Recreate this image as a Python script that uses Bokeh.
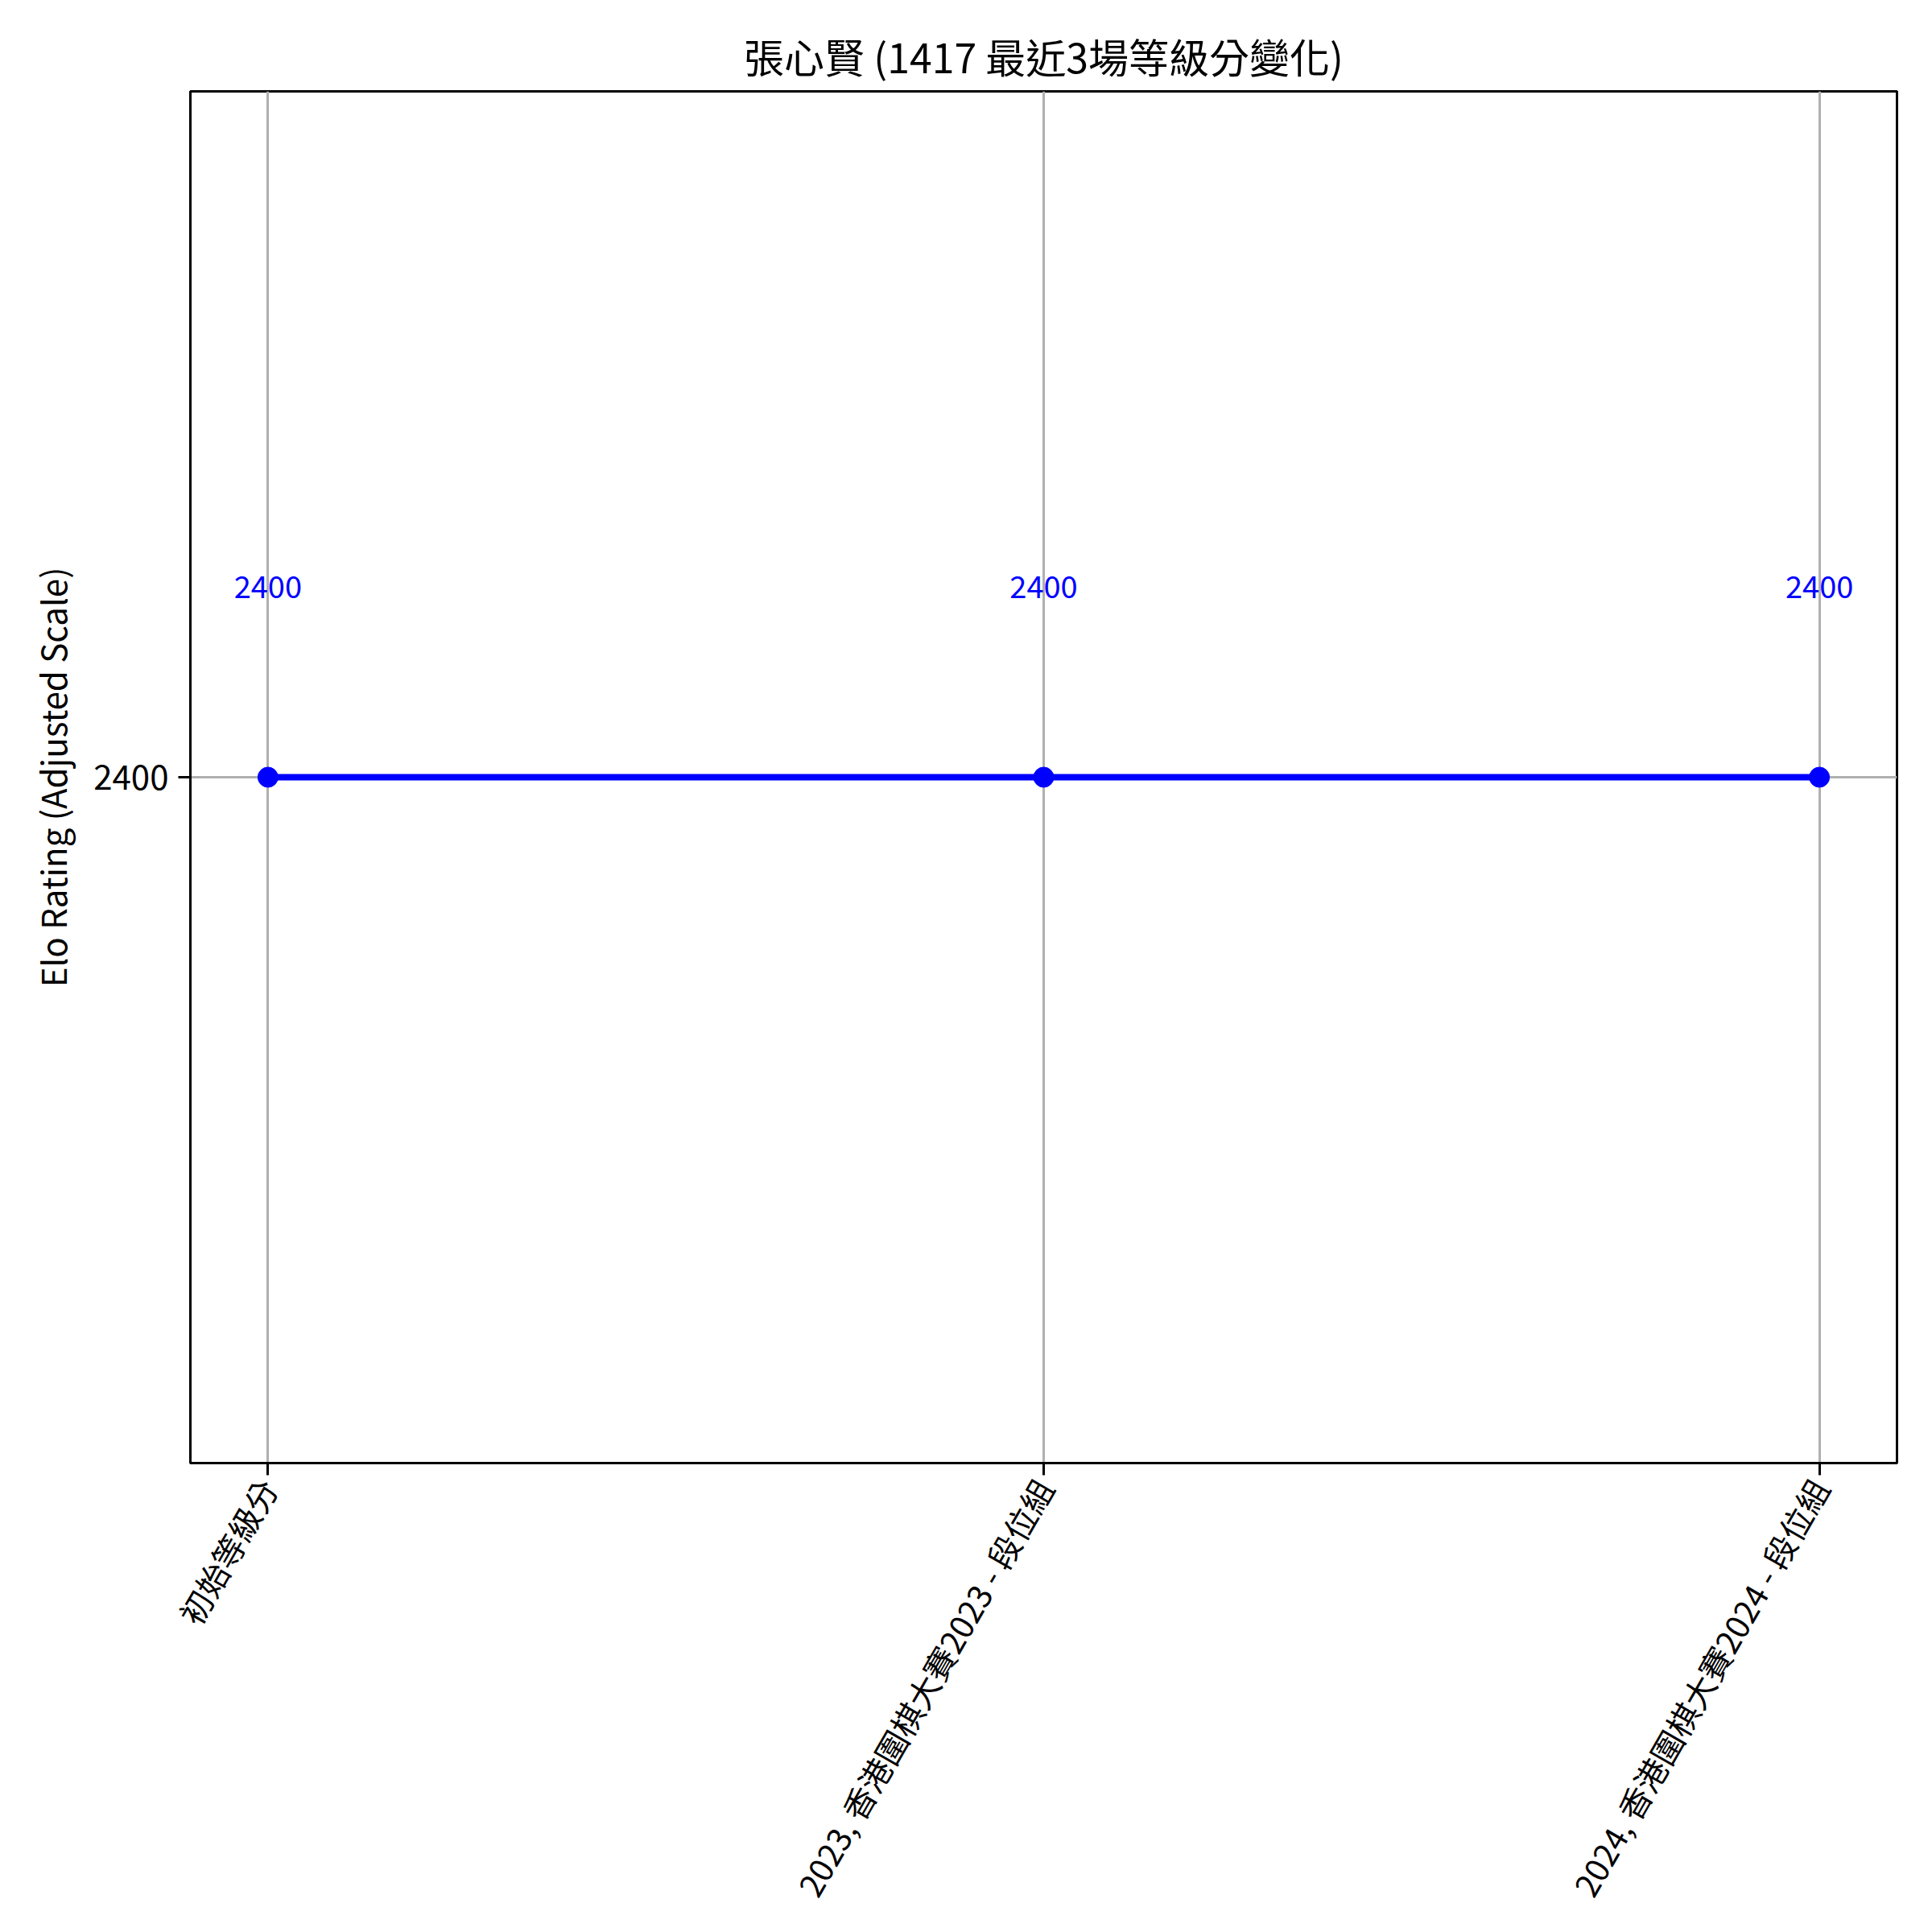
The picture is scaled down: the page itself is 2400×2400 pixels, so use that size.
import math
from bokeh.plotting import figure
from bokeh.models import Range1d, FixedTicker, ColumnDataSource
from bokeh.core.properties import value
from bokeh.embed import file_html
from bokeh.resources import INLINE

title_text = "張心賢 (1417 最近3場等級分變化)"
categories = ["初始等級分", "2023, 香港圍棋大賽2023 - 段位組", "2024, 香港圍棋大賽2024 - 段位組"]
ratings = [2400, 2400, 2400]
y_ticks = [2400]
y_label = "Elo Rating (Adjusted Scale)"

FONT = "Noto Sans CJK TC"
x_idx = list(range(len(categories)))
src = ColumnDataSource(dict(x=x_idx, y=ratings, label=[str(r) for r in ratings]))

p = figure(frame_width=2120, frame_height=1704,
           min_border_left=236, min_border_right=36, min_border_top=113, min_border_bottom=575,
           x_range=Range1d(-0.1, len(categories) - 0.9),
           y_range=Range1d(2300, 2500),
           output_backend="svg", toolbar_location=None, title=title_text)

p.title.text_font = FONT
p.title.text_font_size = "50px"
p.title.text_font_style = "normal"
p.title.align = "center"
p.title.text_color = "black"
p.title.standoff = 18

p.outline_line_color = "black"
p.outline_line_width = 3
p.outline_line_alpha = 1

p.xaxis.ticker = FixedTicker(ticks=x_idx)
p.xaxis.major_label_overrides = {i: c for i, c in zip(x_idx, categories)}
p.xaxis.major_label_orientation = math.pi / 3
p.yaxis.ticker = FixedTicker(ticks=y_ticks)
p.yaxis.axis_label = y_label

for ax in (p.xaxis[0], p.yaxis[0]):
    ax.axis_line_color = "black"
    ax.axis_line_width = 3
    ax.major_tick_in = 0
    ax.major_tick_out = 15
    ax.major_tick_line_width = 3
    ax.major_tick_line_color = "black"
    ax.minor_tick_line_color = None
    ax.major_label_text_font = FONT
    ax.major_label_text_font_size = "42px"
    ax.major_label_text_color = "black"
    ax.major_label_standoff = 12
    ax.axis_label_text_font = FONT
    ax.axis_label_text_font_size = "42px"
    ax.axis_label_text_font_style = "normal"
    ax.axis_label_text_color = "black"
    ax.axis_label_standoff = 18

p.xaxis.major_label_text_font_size = "40px"
p.xaxis.major_label_standoff = 8

for g in (p.xgrid[0], p.ygrid[0]):
    g.grid_line_color = "#b0b0b0"
    g.grid_line_width = 3

p.line("x", "y", source=src, line_color="blue", line_width=8)
p.scatter("x", "y", source=src, size=25, fill_color="blue", line_color="blue")
p.text("x", "y", text="label", source=src, text_align="center", text_baseline="alphabetic",
       y_offset=-237, text_color="blue", text_font_size="38px", text_font=value(FONT))

open("out.html", "w").write(file_html(p, INLINE))
